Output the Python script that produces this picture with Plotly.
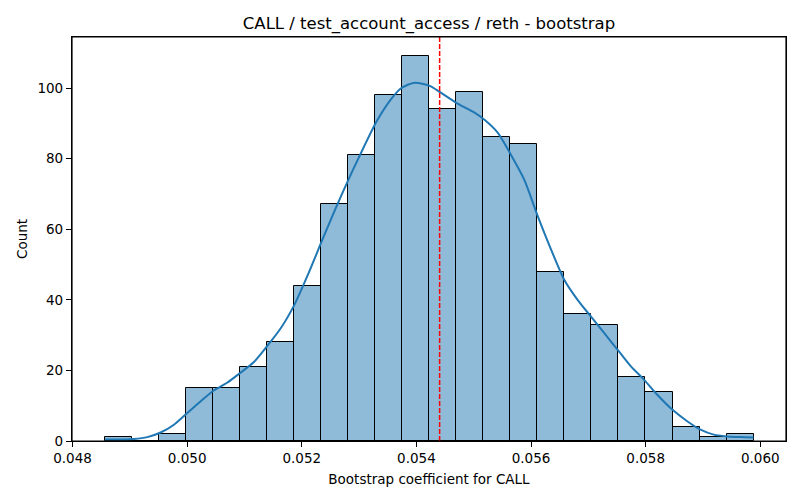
import numpy as np
import plotly.graph_objects as go

# histogram bins (24 bins, equal width)
bin_start = 0.048569
bin_width = 0.0004714
counts = [1, 0, 2, 15, 15, 21, 28, 44, 67, 81, 98, 109,
          94, 99, 86, 84, 48, 36, 33, 18, 14, 4, 1, 2]

# kde curve (scaled to counts)
kde_x = [0.048569, 0.049073, 0.049304, 0.049536, 0.049769, 0.050000,
         0.050231, 0.050464, 0.050696, 0.050927, 0.051160, 0.051391,
         0.051635, 0.051883, 0.052117, 0.052348, 0.052579, 0.052812,
         0.052986, 0.053304, 0.053565, 0.053739, 0.053970, 0.054231,
         0.054405, 0.054696, 0.055014, 0.055188, 0.055421, 0.055652,
         0.055883, 0.056117, 0.056348, 0.056579, 0.056812, 0.057043,
         0.057275, 0.057508, 0.057739, 0.057970, 0.058203, 0.058464,
         0.058725, 0.058957, 0.059188, 0.059421, 0.059652, 0.059883]
kde_y = [0.4, 0.6, 1.1, 2.4, 4.6, 7.9,
         11.2, 14.3, 16.5, 19.3, 22.3, 26.8,
         32.0, 39.0, 47.5, 56.6, 65.5, 74.0,
         80.0, 90.5, 97.0, 100.0, 101.5, 100.6,
         98.9, 95.8, 93.0, 91.0, 87.3, 81.0,
         74.0, 63.7, 54.3, 45.7, 40.0, 35.3,
         30.6, 25.9, 21.2, 17.4, 13.1, 8.9,
         5.6, 3.2, 1.8, 1.3, 1.1, 1.0]

point_estimate = 0.054405
x_ticks = [0.048, 0.050, 0.052, 0.054, 0.056, 0.058, 0.060]
y_ticks = [0, 20, 40, 60, 80, 100]

centers = bin_start + bin_width * (np.arange(len(counts)) + 0.5)

fig = go.Figure()
fig.add_trace(go.Bar(x=centers, y=counts, width=bin_width,
                     marker=dict(color="rgba(31,119,180,0.5)",
                                 line=dict(color="black", width=1)),
                     hoverinfo="x+y"))
fig.add_trace(go.Scatter(x=kde_x, y=kde_y, mode="lines",
                         line=dict(color="#1f77b4", width=2, shape="spline", smoothing=0.7)))
fig.add_shape(type="line", x0=point_estimate, x1=point_estimate, y0=0, y1=1,
              xref="x", yref="paper", layer="above",
              line=dict(color="#ff0000", width=1.5, dash="5px,2px"))
# axes frame
fig.add_shape(type="rect", x0=0, x1=1, y0=0, y1=1, xref="paper", yref="paper",
              layer="above", line=dict(color="black", width=1.2))

# the page body adds an 8px offset, so margins are shifted to compensate
fig.update_layout(
    width=800, height=500,
    margin=dict(l=64, r=22, t=29, b=67, autoexpand=False),
    plot_bgcolor="white", paper_bgcolor="white",
    font=dict(family="DejaVu Sans", color="black"),
    showlegend=False, bargap=0,
    title=dict(text="CALL / test_account_access / reth - bootstrap",
               x=0.5, xref="paper", xanchor="center",
               y=1 - 15 / 500, yref="container", yanchor="middle",
               font=dict(size=16.5, color="black")),
    xaxis=dict(range=[0.04799, 0.060449], tickvals=x_ticks, tickformat=".3f",
               showline=True, mirror=True, linecolor="black", linewidth=1.2,
               ticks="outside", ticklen=5, tickwidth=1.2, tickcolor="black",
               layer="above traces",
               showgrid=False, zeroline=False, automargin=False,
               tickfont=dict(size=13.5, color="black"),
               title=dict(text="Bootstrap coefficient for CALL", font=dict(size=13.5),
                          standoff=9)),
    yaxis=dict(range=[0, 114.45], tickvals=y_ticks,
               showline=True, mirror=True, linecolor="black", linewidth=1.2,
               ticks="outside", ticklen=5, tickwidth=1.2, tickcolor="black",
               layer="above traces",
               showgrid=False, zeroline=False, automargin=False,
               tickfont=dict(size=13.5, color="black"),
               title=dict(text="Count", font=dict(size=13.5), standoff=6)),
)

fig.write_html("out.html")
